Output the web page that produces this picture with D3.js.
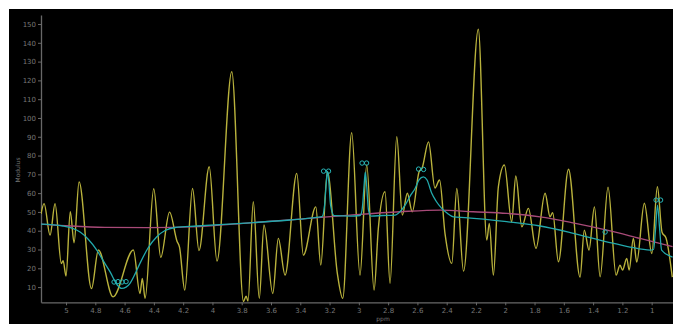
<!DOCTYPE html>
<html>
<head>
<meta charset="utf-8">
<script src="https://cdn.jsdelivr.net/npm/d3@7/dist/d3.min.js"></script>
<style>
  html, body { margin: 0; padding: 0; background: #ffffff; }
  svg { display: block; }
  text { font-family: "DejaVu Sans", "Liberation Sans", sans-serif; }
</style>
</head>
<body>
<svg id="chart" width="673" height="324"></svg>
<script>
// Measured spectrum (modulus) vs chemical shift
const specPpm = [5.171,5.150,5.109,5.075,5.032,5.020,5.000,4.971,4.945,4.911,4.826,4.779,4.679,4.540,4.495,4.479,4.460,4.401,4.353,4.293,4.242,4.225,4.189,4.136,4.092,4.022,3.969,3.868,3.788,3.770,3.757,3.721,3.680,3.648,3.588,3.550,3.504,3.424,3.379,3.294,3.260,3.215,3.147,3.110,3.049,2.992,2.946,2.896,2.867,2.821,2.787,2.741,2.703,2.669,2.635,2.589,2.568,2.524,2.480,2.449,2.411,2.365,2.331,2.285,2.184,2.126,2.109,2.081,2.047,2.006,1.956,1.928,1.887,1.842,1.790,1.728,1.694,1.676,1.637,1.568,1.489,1.460,1.428,1.391,1.352,1.298,1.243,1.216,1.199,1.170,1.154,1.125,1.102,1.050,0.999,0.961,0.929,0.902,0.859];
const specMod = [48.9,54.4,37.7,54.4,22.5,24.1,15.9,50.1,33.6,66.0,9.2,29.7,4.8,29.7,6.6,14.6,4.0,62.3,25.8,49.9,34.4,31.3,8.4,62.5,29.4,74.0,23.8,124.6,2.3,5.2,2.5,55.4,4.0,43.0,6.6,35.9,16.4,70.5,27.0,52.7,21.7,71.4,17.3,4.0,92.1,16.4,75.0,8.4,41.2,60.7,12.0,90.0,48.3,59.9,50.1,71.2,73.3,87.3,62.7,67.0,38.2,22.6,62.5,18.5,147.2,35.0,43.9,16.4,63.4,75.0,44.8,69.1,42.1,51.9,30.6,59.9,47.4,49.6,23.5,72.7,15.3,40.3,29.7,52.7,15.5,63.2,16.4,21.7,19.0,25.3,19.0,35.9,23.3,54.6,27.9,63.4,39.2,36.1,15.3];

// Baseline estimate
const basePpm = [5.171,4.966,4.734,4.440,4.085,3.743,3.402,3.060,2.719,2.445,2.220,1.988,1.762,1.537,1.305,1.080,0.857];
const baseMod = [43.5,42.5,41.8,41.6,42.2,44.2,46.2,48.3,50.1,51.0,50.1,49.2,47.4,44.2,40.3,35.9,31.5];

// Fitted model
const fitPpm = [5.171,5.020,4.959,4.904,4.850,4.790,4.740,4.699,4.650,4.620,4.590,4.563,4.529,4.495,4.440,4.380,4.324,4.255,4.107,3.743,3.470,3.288,3.251,3.234,3.222,3.214,3.205,3.193,3.169,3.060,2.992,2.978,2.964,2.956,2.947,2.934,2.917,2.835,2.753,2.719,2.684,2.650,2.616,2.589,2.559,2.534,2.502,2.473,2.434,2.398,2.354,2.275,1.990,1.762,1.535,1.307,1.148,1.011,0.987,0.973,0.960,0.946,0.932,0.857];
const fitMod = [43.5,42.5,41.4,39.3,35.6,29.7,23.3,18.1,11.1,9.3,10.0,12.0,16.9,22.6,30.8,36.8,40.1,41.7,42.5,44.2,45.7,47.1,47.5,53.6,65.9,71.5,65.9,53.6,48.0,47.8,48.1,51.0,64.3,71.2,64.3,51.0,47.8,48.1,48.3,50.1,53.6,58.4,62.5,67.0,68.7,67.0,59.9,55.8,51.9,49.4,47.4,47.0,44.8,42.5,38.6,34.1,31.3,29.7,30.0,41.4,53.6,41.4,29.7,26.0];

// Peak markers of fitted components
const markPpm = [4.672,4.645,4.617,4.590,3.241,3.207,2.978,2.947,2.592,2.558,1.318,0.970,0.939];
const markMod = [12.7,12.9,12.7,12.9,71.7,71.7,76.0,76.0,72.8,72.6,39.3,56.3,56.3];

const xTicks = [5,4.8,4.6,4.4,4.2,4,3.8,3.6,3.4,3.2,3,2.8,2.6,2.4,2.2,2,1.8,1.6,1.4,1.2,1];
const xTickLabels = ["5","4.8","4.6","4.4","4.2","4","3.8","3.6","3.4","3.2","3","2.8","2.6","2.4","2.2","2","1.8","1.6","1.4","1.2","1"];
const yTicks = [10,20,30,40,50,60,70,80,90,100,110,120,130,140,150];

const svg = d3.select("#chart");

// dark panel
svg.append("rect").attr("x", 9).attr("y", 9).attr("width", 664).attr("height", 315).attr("fill", "#000000");

const x = d3.scaleLinear().domain([5.171, 0.857]).range([41, 672.6]);
const y = d3.scaleLinear().domain([1.9, 154.8]).range([302.3, 15]);

svg.append("defs").append("clipPath").attr("id", "plot-clip")
  .append("rect").attr("x", 41).attr("y", 13).attr("width", 632).attr("height", 289.3);

// axes
const axisColor = "#686868";
const labelColor = "#767676";

const gx = svg.append("g").attr("transform", "translate(0,302.3)")
  .call(d3.axisBottom(x).tickValues(xTicks).tickSizeInner(3).tickSizeOuter(0).tickPadding(3)
    .tickFormat((d, i) => xTickLabels[i]));
const gy = svg.append("g").attr("transform", "translate(41,0)")
  .call(d3.axisLeft(y).tickValues(yTicks).tickSizeInner(3).tickSizeOuter(0).tickPadding(2));

[gx, gy].forEach(g => {
  g.select(".domain").attr("stroke", axisColor).attr("stroke-width", 1.3);
  g.selectAll(".tick line").attr("stroke", axisColor);
  g.selectAll(".tick text").attr("fill", labelColor).style("font-size", "7px");
});

svg.append("text").attr("x", 383).attr("y", 321).attr("text-anchor", "middle")
  .attr("fill", labelColor).style("font-size", "6px").text("ppm");
svg.append("text").attr("transform", "translate(20,170) rotate(-90)").attr("text-anchor", "middle")
  .attr("fill", labelColor).style("font-size", "6px").text("Modulus");

const plot = svg.append("g").attr("clip-path", "url(#plot-clip)");

function drawLine(ppm, mod, color, width) {
  const pts = ppm.map((p, i) => [p, mod[i]]);
  plot.append("path")
    .datum(pts)
    .attr("fill", "none")
    .attr("stroke", color)
    .attr("stroke-width", width)
    .attr("stroke-linejoin", "round")
    .attr("d", d3.line().x(d => x(d[0])).y(d => y(d[1])).curve(d3.curveMonotoneX));
}

drawLine(specPpm, specMod, "#b9b23c", 1.4);
drawLine(basePpm, baseMod, "#a84a78", 1.3);
drawLine(fitPpm, fitMod, "#22a9ac", 1.3);

plot.selectAll("circle.mark")
  .data(markPpm.map((p, i) => [p, markMod[i]]))
  .join("circle")
  .attr("class", "mark")
  .attr("cx", d => x(d[0]))
  .attr("cy", d => y(d[1]))
  .attr("r", 2.2)
  .attr("fill", "none")
  .attr("stroke", "#29b8ba")
  .attr("stroke-width", 1);
</script>
</body>
</html>
